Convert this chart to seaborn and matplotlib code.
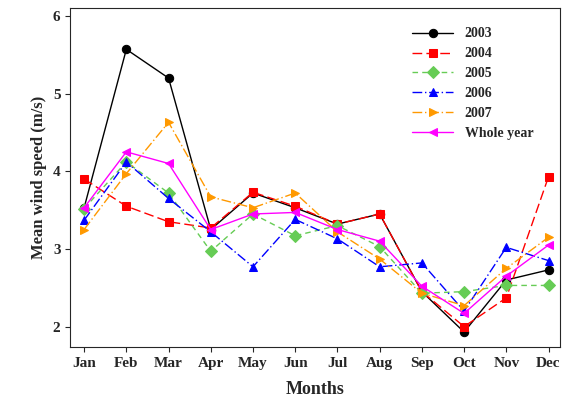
import matplotlib
matplotlib.use("Agg")
import matplotlib.pyplot as plt
import seaborn as sns
import pandas as pd

months = ["Jan","Feb","Mar","Apr","May","Jun","Jul","Aug","Sep","Oct","Nov","Dec"]
s2003 = [3.53,5.57,5.20,3.25,3.72,3.53,3.32,3.45,2.45,1.93,2.60,2.73]
s2004 = [3.90,3.55,3.35,3.27,3.73,3.55,3.32,3.45,2.45,2.00,2.37,3.93]
s2005 = [3.52,4.12,3.72,2.97,3.45,3.17,3.30,3.03,2.43,2.45,2.53,2.53]
s2006 = [3.37,4.12,3.65,3.22,2.77,3.38,3.13,2.77,2.82,2.20,3.02,2.85]
s2007 = [3.25,3.97,4.63,3.67,3.53,3.72,3.22,2.87,2.43,2.27,2.75,3.15]
whole = [3.53,4.25,4.10,3.25,3.45,3.47,3.25,3.10,2.52,2.17,2.65,3.05]

sns.set_style("ticks")
plt.rcParams['font.family'] = ['Liberation Serif', 'DejaVu Serif']
plt.rcParams['font.weight'] = 'bold'

series = [("2003", s2003, "black", "o", "-"),
          ("2004", s2004, "red", "s", (0,(7,3))),
          ("2005", s2005, "#66cc55", "D", (0,(4,3))),
          ("2006", s2006, "blue", "^", (0,(7,2,1,2))),
          ("2007", s2007, "#ff9900", ">", (0,(7,2,1,2))),
          ("Whole year", whole, "magenta", "<", "-")]

fig, ax = plt.subplots(figsize=(5.66, 4.08), dpi=100)
x = list(range(12))
for name, vals, c, m, ls in series:
    df = pd.DataFrame({"x": x, "y": vals})
    sns.lineplot(data=df, x="x", y="y", ax=ax, color=c, marker=m, linestyle=ls,
                 markersize=6, markeredgecolor=c, linewidth=1, label=name)
ax.set_xticks(x)
ax.set_xticklabels(months, fontweight='bold', fontsize=11)
ax.set_xlim(-0.33, 11.28)
ax.set_ylim(1.74, 6.1)
ax.set_yticks([2,3,4,5,6])
ax.tick_params(axis='y', labelsize=11)
for t in ax.get_yticklabels(): t.set_fontweight('bold')
ax.set_xlabel("Months", fontsize=13, fontweight='bold', labelpad=8)
ax.set_ylabel("Mean wind speed (m/s)", fontsize=12, fontweight='bold')
ax.legend(frameon=False, loc="upper right", bbox_to_anchor=(0.97, 0.98), prop={'weight':'bold','size':10}, handlelength=3)
plt.subplots_adjust(left=0.124, right=0.99, top=0.98, bottom=0.15)
fig.savefig("out.png", dpi=100)
